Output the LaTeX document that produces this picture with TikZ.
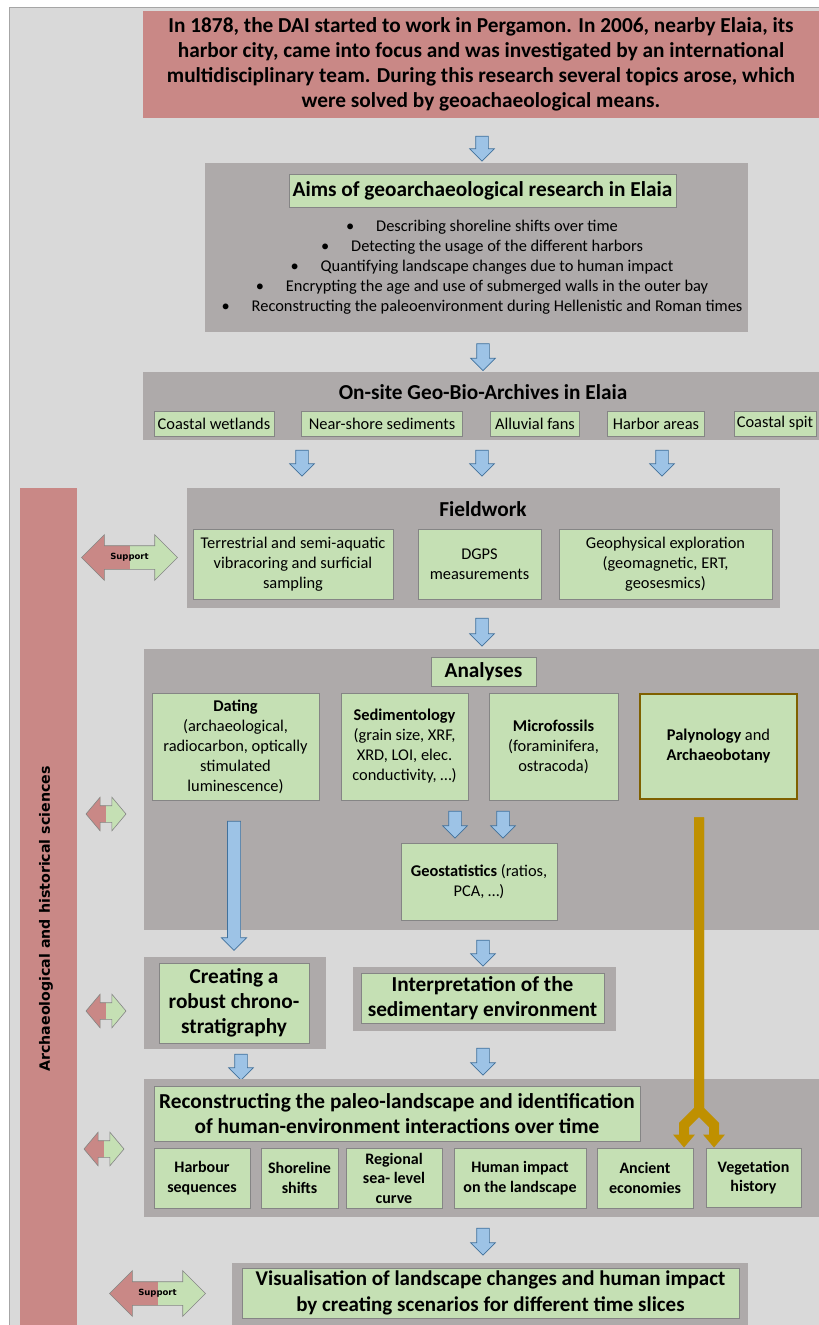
\documentclass[tikz,border=0pt]{standalone}
\usepackage{fontspec}
\setmainfont{Carlito}
\newfontfamily\wideface{DejaVu Sans}
\usetikzlibrary{shapes.arrows,arrows.meta}

\definecolor{bggray}{HTML}{D9D9D9}
\definecolor{framegray}{HTML}{A6A6A6}
\definecolor{panelgray}{HTML}{AEAAAA}
\definecolor{boxgreen}{HTML}{C5E0B4}
\definecolor{boxedge}{HTML}{858585}
\definecolor{titlered}{HTML}{C98886}
\definecolor{arrowblue}{HTML}{9DC3E6}
\definecolor{arrowedge}{HTML}{41719C}
\definecolor{goldfill}{HTML}{BF9000}
\definecolor{golddark}{HTML}{7F6000}

\begin{document}
\begin{tikzpicture}[x=1pt,y=-1pt,
  panel/.style={fill=panelgray,inner sep=0pt},
  greenbox/.style={draw=boxedge,fill=boxgreen,line width=0.8pt,align=center,inner sep=0pt},
  redbox/.style={fill=titlered,align=center,inner sep=0pt},
  downarrow/.style={single arrow,rotate=-90,draw=arrowedge,fill=arrowblue,line width=0.7pt,
    minimum height=27,inner sep=0pt,inner ysep=6pt,single arrow head extend=6,single arrow tip angle=90},
  sidearrow/.style={double arrow,draw=boxedge,fill=boxgreen,line width=0.6pt,inner sep=0pt,
    path picture={\fill[titlered] (path picture bounding box.south west) rectangle (path picture bounding box.north);}},
  bigarrow/.style={sidearrow,minimum height=96,inner ysep=11.5pt,double arrow head extend=11,double arrow tip angle=90},
  smallarrow/.style={sidearrow,minimum height=40,inner ysep=8pt,double arrow head extend=8.5,double arrow tip angle=100},
  goldlink/.style={draw=goldfill,line width=10pt,-{Triangle[width=21pt,length=13pt]}},
  head/.style={font=\bfseries\fontsize{21.3}{25}\selectfont},
  body/.style={font=\fontsize{16.4}{20}\selectfont},
  small/.style={font=\bfseries\fontsize{16}{19.5}\selectfont}]

  \useasboundingbox (0,0) rectangle (819,1325);
  \fill[bggray] (9,7) rectangle (819,1325);
  \draw[framegray,line width=1pt] (9,1325) -- (9,7) -- (819,7);

  \node (intro) at (481,64.5) [redbox,head,minimum width=676,minimum height=107] {In 1878, the DAI started to work in Pergamon. In 2006, nearby Elaia, its\\ harbor city, came into focus and was investigated by an international\\ multidisciplinary team. During this research several topics arose, which\\ were solved by geoachaeological means.} ;
  \node (a1) at (482,145.5) [downarrow,minimum height=25] {} ;

  \node (aims) at (476.5,247.5) [panel,minimum width=543,minimum height=169] {} ;
  \node (aimstitle) at (482.5,190.5) [greenbox,head,minimum width=387,minimum height=33] {Aims of geoarchaeological research in Elaia} ;
  \node (aimslist) at (482,267) [body,align=center] {\textbullet\hspace{22pt}Describing shoreline shifts over time\\
    \textbullet\hspace{22pt}Detecting the usage of the different harbors\\
    \textbullet\hspace{22pt}Quantifying landscape changes due to human impact\\
    \textbullet\hspace{22pt}Encrypting the age and use of submerged walls in the outer bay\\
    \textbullet\hspace{22pt}Reconstructing the paleoenvironment during Hellenistic and Roman times} ;
  \node (a2) at (483,354) [downarrow] {} ;

  \node (arch) at (481,406) [panel,minimum width=676,minimum height=68] {} ;
  \node (archtitle) at (483,392) [head] {On-site Geo-Bio-Archives in Elaia} ;
  \node (wet) at (214,423.5) [greenbox,body,minimum width=120,minimum height=25] {Coastal wetlands} ;
  \node (near) at (382,423.5) [greenbox,body,minimum width=161,minimum height=25] {Near-shore sediments} ;
  \node (fans) at (535,423.5) [greenbox,body,minimum width=89,minimum height=25] {Alluvial fans} ;
  \node (harb) at (656,423.5) [greenbox,body,minimum width=97,minimum height=25] {Harbor areas} ;
  \node (spit) at (775,423.5) [greenbox,body,minimum width=82,minimum height=25] {Coastal spit} ;
  \node (a3) at (302,460) [downarrow,minimum height=26] {} ;
  \node (a4) at (482,460) [downarrow,minimum height=26] {} ;
  \node (a5) at (662,460) [downarrow,minimum height=26] {} ;

  \node (bar) at (48.5,906.5) [redbox,minimum width=57,minimum height=837] {} ;
  \node (sci) at (46,919) [rotate=90,font=\wideface\bfseries\fontsize{14.2}{16}\selectfont] {Archaeological and historical sciences} ;

  \node (field) at (483.5,548) [panel,minimum width=593,minimum height=120] {} ;
  \node (fieldtitle) at (483,509) [head] {Fieldwork} ;
  \node (f1) at (293,564) [greenbox,body,minimum width=200,minimum height=70] {Terrestrial and semi-aquatic\\ vibracoring and surficial\\ sampling} ;
  \node (f2) at (479.5,564) [greenbox,body,minimum width=123,minimum height=70] {DGPS\\ measurements} ;
  \node (f3) at (665.5,564) [greenbox,body,minimum width=213,minimum height=70] {Geophysical exploration\\ (geomagnetic, ERT,\\ geosesmics)} ;
  \node (sup1) at (129.5,557.5) [bigarrow] {} ;
  \node at (sup1) [font=\wideface\bfseries\fontsize{8.5}{10}\selectfont] {Support} ;
  \node (a6) at (482,629) [downarrow,minimum height=28] {} ;

  \node (anal) at (481.5,789.5) [panel,minimum width=675,minimum height=281] {} ;
  \node (analtitle) at (483.5,671.5) [greenbox,head,minimum width=105,minimum height=29] {Analyses} ;
  \node (dating) at (235.5,746.5) [greenbox,body,minimum width=167,minimum height=107] {\textbf{Dating}\\ (archaeological,\\ radiocarbon, optically\\ stimulated\\ luminescence)} ;
  \node (sedi) at (404.5,746.5) [greenbox,body,minimum width=127,minimum height=107] {\textbf{Sedimentology}\\ (grain size, XRF,\\ XRD, LOI, elec.\\ conductivity, …)} ;
  \node (micro) at (553.5,746.5) [greenbox,body,minimum width=129,minimum height=107] {\textbf{Microfossils}\\ (foraminifera,\\ ostracoda)} ;
  \node (paly) at (718.5,746.5) [greenbox,body,draw=golddark,line width=2.5pt,minimum width=157,minimum height=105] {\textbf{Palynology} and\\ \textbf{Archaeobotany}} ;
  \node (a7) at (455,821.5) [downarrow] {} ;
  \node (a8) at (503,821.5) [downarrow] {} ;
  \node (geo) at (479,881.5) [greenbox,body,minimum width=156,minimum height=77] {\textbf{Geostatistics} (ratios,\\ PCA, …)} ;
  \node (long) at (234,882.5) [downarrow,minimum height=129,inner ysep=6.25pt] {} ;
  \node (a9) at (483,950) [downarrow,minimum height=26] {} ;

  \node (chronop) at (235,1003) [panel,minimum width=182,minimum height=92] {} ;
  \node (chrono) at (234,1003) [greenbox,head,minimum width=150,minimum height=80] {Creating a\\ robust chrono-\\ stratigraphy} ;
  \node (interpp) at (484.5,999) [panel,minimum width=263,minimum height=64] {} ;
  \node (interp) at (482.5,998) [greenbox,head,minimum width=243,minimum height=50] {Interpretation of the\\ sedimentary environment} ;
  \node (s1) at (106,814) [smallarrow] {} ;
  \node (s2) at (106,1011) [smallarrow] {} ;
  \node (s3) at (104,1149) [smallarrow] {} ;
  \node (a10) at (241,1064) [downarrow,minimum height=26] {} ;
  \node (a11) at (483,1058.5) [downarrow] {} ;

  \node (recon) at (481.5,1148) [panel,minimum width=675,minimum height=138] {} ;
  \node (recontitle) at (397,1113.5) [greenbox,head,minimum width=486,minimum height=55] {Reconstructing the paleo-landscape and identification\\ of human-environment interactions over time} ;
  \node (hseq) at (202,1178) [greenbox,small,minimum width=96,minimum height=60] {Harbour\\ sequences} ;
  \node (shore) at (299.5,1178) [greenbox,small,minimum width=77,minimum height=60] {Shoreline\\ shifts} ;
  \node (sea) at (394,1178) [greenbox,small,minimum width=96,minimum height=60] {Regional\\ sea- level\\ curve} ;
  \node (human) at (520,1178) [greenbox,small,minimum width=132,minimum height=60] {Human impact\\ on the landscape} ;
  \node (anc) at (645,1178) [greenbox,small,minimum width=96,minimum height=60] {Ancient\\ economies} ;
  \node (veg) at (753.5,1177.5) [greenbox,small,minimum width=95,minimum height=59] {Vegetation\\ history} ;

  \coordinate (fork) at (699,1110) ;
  \coordinate (forkl) at (684,1125) ;
  \coordinate (forkr) at (714,1125) ;
  \draw [goldlink] ([yshift=-17pt]fork |- paly.south) -- (fork) -- (forkl) -- (forkl |- anc.north);
  \draw [goldlink] ([yshift=-17pt]fork |- paly.south) -- (fork) -- (forkr) -- (forkr |- veg.north);

  \node (a12) at (483,1238.5) [downarrow] {} ;
  \node (visp) at (490,1294) [panel,minimum width=516,minimum height=62] {} ;
  \node (vis) at (490.5,1293) [greenbox,head,font=\bfseries\fontsize{21}{26}\selectfont,minimum width=497,minimum height=50] {Visualisation of landscape changes and human impact\\ by creating scenarios for different time slices} ;
  \node (sup2) at (157.5,1293.5) [bigarrow] {} ;
  \node at (sup2) [font=\wideface\bfseries\fontsize{8.5}{10}\selectfont] {Support} ;
\end{tikzpicture}
\end{document}
